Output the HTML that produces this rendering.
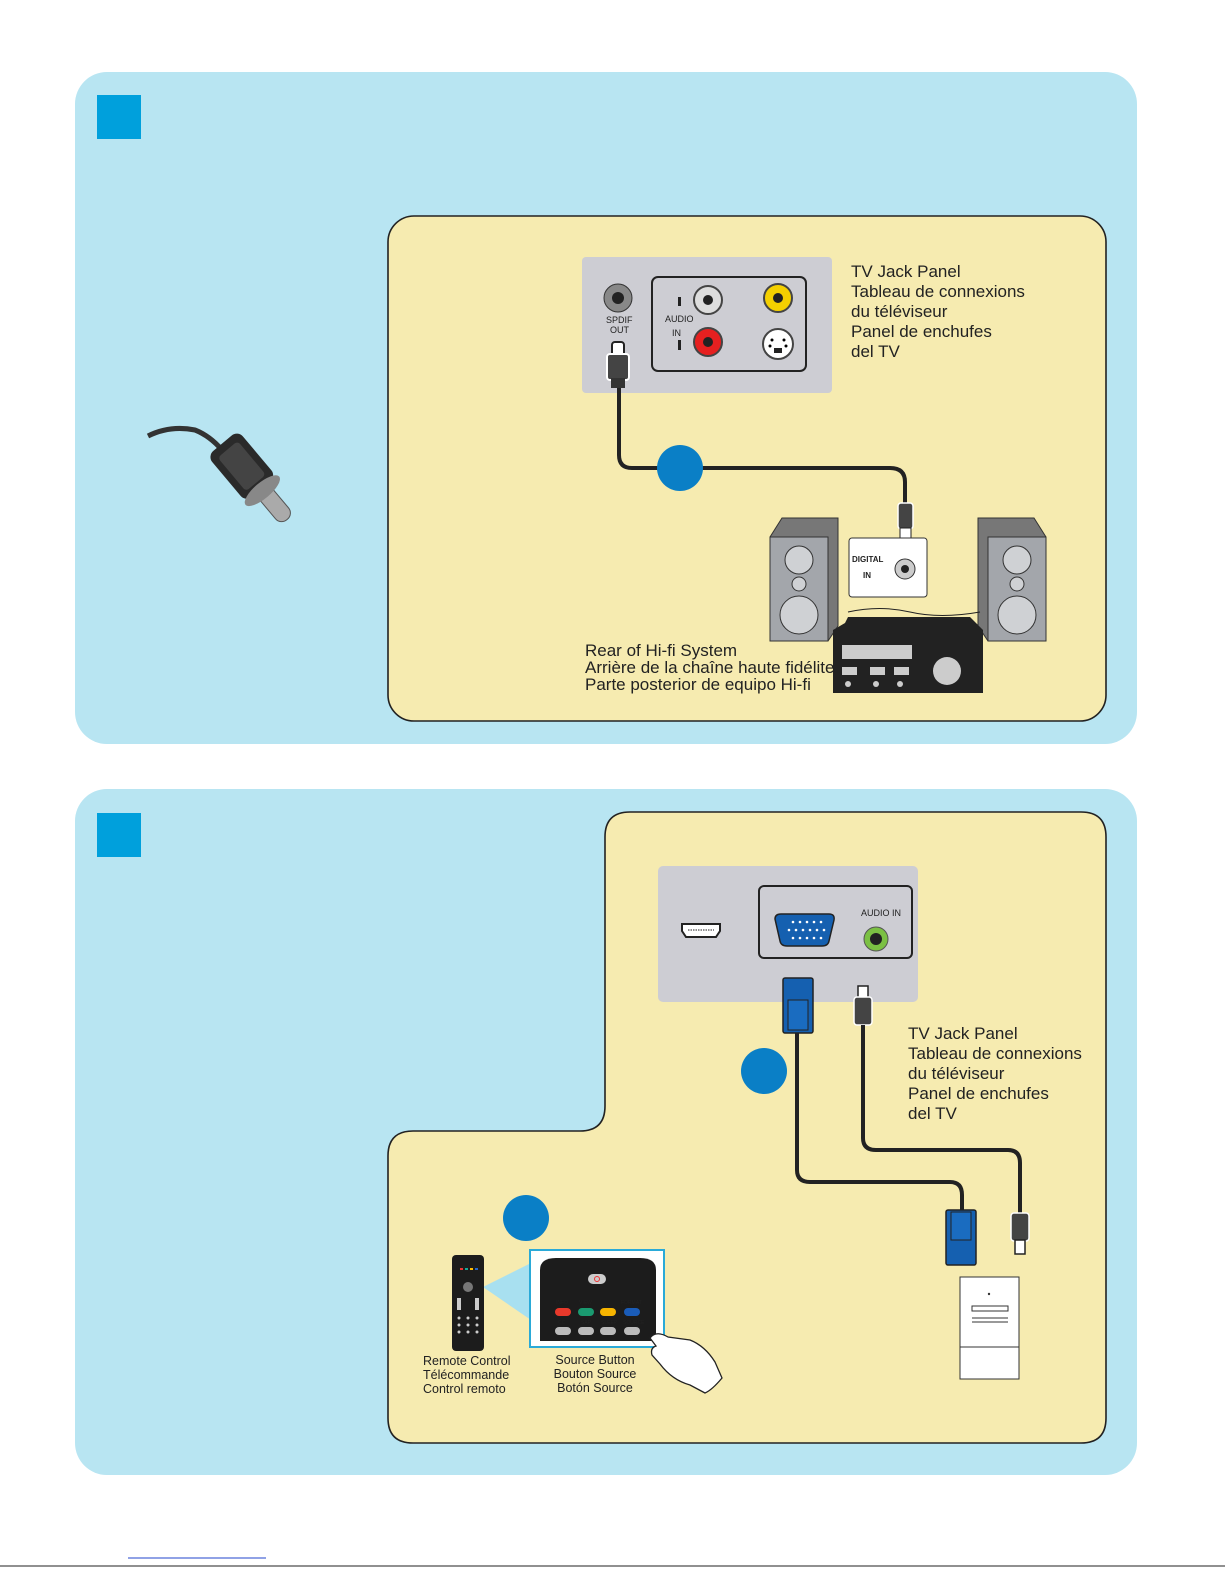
<!DOCTYPE html>
<html><head><meta charset="utf-8"><style>
html,body{margin:0;padding:0;background:#fff}
svg{display:block}
text{font-family:"Liberation Sans",sans-serif;fill:#222}
.lb{font-size:17px}
.sm{font-size:12.5px}
.tiny{font-size:8px;font-weight:bold}
</style></head><body>
<svg width="1225" height="1585" viewBox="0 0 1225 1585" xmlns="http://www.w3.org/2000/svg">
<rect x="75" y="72" width="1062" height="672" rx="32" fill="#b8e5f2"/>
<rect x="97" y="95" width="44" height="44" fill="#00a0dc"/>
<rect x="388" y="216" width="718" height="505" rx="26" fill="#f6ebb0" stroke="#222" stroke-width="1.6"/>
<path d="M148 436 Q170 425 195 430 Q210 436 222 450" fill="none" stroke="#333" stroke-width="5"/>
<g transform="rotate(-40 245 470)">
<rect x="225" y="435" width="40" height="60" rx="8" fill="#2a2a2a"/>
<rect x="232" y="443" width="26" height="44" rx="4" fill="#444"/>
<rect x="237" y="490" width="17" height="45" rx="8" fill="#aaa" stroke="#555"/>
<ellipse cx="245" cy="497" rx="22" ry="8" fill="#888"/>
</g>
<rect x="582" y="257" width="250" height="136" rx="4" fill="#cdcdd3"/>
<rect x="652" y="277" width="154" height="94" rx="6" fill="none" stroke="#222" stroke-width="2"/>
<circle cx="618" cy="298" r="14" fill="#888" stroke="#333"/><circle cx="618" cy="298" r="6" fill="#222"/>
<text x="606" y="323" style="font-size:9px">SPDIF</text>
<text x="610" y="333" style="font-size:9px">OUT</text>
<circle cx="708" cy="300" r="14" fill="#ddd" stroke="#444" stroke-width="2"/><circle cx="708" cy="300" r="5" fill="#222"/>
<circle cx="708" cy="342" r="14" fill="#e62020" stroke="#444" stroke-width="2"/><circle cx="708" cy="342" r="5" fill="#222"/>
<circle cx="778" cy="298" r="14" fill="#f4d000" stroke="#444" stroke-width="2"/><circle cx="778" cy="298" r="5" fill="#222"/>
<circle cx="778" cy="344" r="15" fill="#fff" stroke="#444" stroke-width="2"/><rect x="774" y="348" width="8" height="5" fill="#222"/>
<circle cx="772" cy="340" r="1.5"/><circle cx="784" cy="340" r="1.5"/><circle cx="770" cy="346" r="1.5"/><circle cx="786" cy="346" r="1.5"/>
<rect x="678" y="297" width="3" height="9" fill="#222"/><rect x="678" y="340" width="3" height="10" fill="#222"/>
<text x="665" y="322" style="font-size:9px">AUDIO</text>
<text x="672" y="336" style="font-size:9px">IN</text>
<rect x="612" y="342" width="12" height="14" rx="3" fill="#fff" stroke="#222" stroke-width="2"/>
<rect x="607" y="354" width="22" height="26" rx="3" fill="#444" stroke="#fff" stroke-width="2"/>
<rect x="611" y="378" width="14" height="10" fill="#333"/>
<path d="M619 388 V455 Q619 468 632 468 H890 Q905 468 905 482 V505" fill="none" stroke="#222" stroke-width="4"/>
<circle cx="680" cy="468" r="23" fill="#0a7fc6"/>
<rect x="898" y="503" width="15" height="26" rx="3" fill="#444" stroke="#fff" stroke-width="1.5"/>
<rect x="900" y="528" width="11" height="12" fill="#fff" stroke="#222"/>
<text class="lb"><tspan x="851" y="277">TV Jack Panel</tspan><tspan x="851" y="297">Tableau de connexions</tspan><tspan x="851" y="317">du téléviseur</tspan><tspan x="851" y="337">Panel de enchufes</tspan><tspan x="851" y="357">del TV</tspan></text>
<polygon points="770,537 782,518 838,518 838,626 828,641 770,641" fill="#777" stroke="#333"/>
<rect x="770" y="537" width="58" height="104" fill="#a3a6ab" stroke="#333"/>
<circle cx="799" cy="560" r="14" fill="#cfd1d4" stroke="#333"/><circle cx="799" cy="584" r="7" fill="#cfd1d4" stroke="#333"/><circle cx="799" cy="615" r="19" fill="#cfd1d4" stroke="#333"/>
<polygon points="978,518 1034,518 1046,537 1046,641 988,641 978,626" fill="#777" stroke="#333"/>
<rect x="988" y="537" width="58" height="104" fill="#a3a6ab" stroke="#333"/>
<circle cx="1017" cy="560" r="14" fill="#cfd1d4" stroke="#333"/><circle cx="1017" cy="584" r="7" fill="#cfd1d4" stroke="#333"/><circle cx="1017" cy="615" r="19" fill="#cfd1d4" stroke="#333"/>
<rect x="849" y="538" width="78" height="59" rx="3" fill="#fff" stroke="#333"/>
<text x="852" y="562" class="tiny">DIGITAL</text><text x="863" y="578" class="tiny">IN</text>
<circle cx="905" cy="569" r="10" fill="#ccc" stroke="#333"/><circle cx="905" cy="569" r="4" fill="#222"/>
<path d="M848 612 Q880 605 910 612 T980 612" fill="none" stroke="#222"/>
<polygon points="845,623 848,617 970,617 983,630 983,693 833,693 833,630" fill="#222"/>
<rect x="842" y="645" width="70" height="14" fill="#ccc"/>
<rect x="842" y="667" width="15" height="8" fill="#ccc"/><rect x="870" y="667" width="15" height="8" fill="#ccc"/><rect x="894" y="667" width="15" height="8" fill="#ccc"/>
<circle cx="848" cy="684" r="3" fill="#ccc"/><circle cx="876" cy="684" r="3" fill="#ccc"/><circle cx="900" cy="684" r="3" fill="#ccc"/>
<circle cx="947" cy="671" r="14" fill="#ccc"/>
<text class="lb"><tspan x="585" y="656">Rear of Hi-fi System</tspan><tspan x="585" y="673">Arrière de la chaîne haute fidélite</tspan><tspan x="585" y="690">Parte posterior de equipo Hi-fi</tspan></text>

<rect x="75" y="789" width="1062" height="686" rx="32" fill="#b8e5f2"/>
<rect x="97" y="813" width="44" height="44" fill="#00a0dc"/>
<path d="M630 812 H1081 Q1106 812 1106 837 V1418 Q1106 1443 1081 1443 H413 Q388 1443 388 1418 V1156 Q388 1131 413 1131 H580 Q605 1131 605 1106 V837 Q605 812 630 812 Z" fill="#f6ebb0" stroke="#222" stroke-width="1.6"/>
<rect x="658" y="866" width="260" height="136" rx="5" fill="#cdcdd3"/>
<rect x="759" y="886" width="153" height="72" rx="5" fill="none" stroke="#222" stroke-width="2"/>
<path d="M682 931 V924 H720 V931 L716 937 H686 Z" fill="#fff" stroke="#222" stroke-width="2"/>
<line x1="688" y1="930" x2="714" y2="930" stroke="#222" stroke-dasharray="1.5 1"/>
<path d="M775 919 Q775 914 781 914 H829 Q835 914 834 920 L829 941 Q828 946 822 946 H787 Q781 946 780 941 Z" fill="#1560b0" stroke="#222" stroke-width="1.5"/>
<g fill="#fff"><circle cx="793" cy="922" r="1.3"/><circle cx="800" cy="922" r="1.3"/><circle cx="807" cy="922" r="1.3"/><circle cx="814" cy="922" r="1.3"/><circle cx="821" cy="922" r="1.3"/>
<circle cx="796" cy="930" r="1.3"/><circle cx="803" cy="930" r="1.3"/><circle cx="810" cy="930" r="1.3"/><circle cx="817" cy="930" r="1.3"/><circle cx="824" cy="930" r="1.3"/><circle cx="789" cy="930" r="1.3"/>
<circle cx="793" cy="938" r="1.3"/><circle cx="800" cy="938" r="1.3"/><circle cx="807" cy="938" r="1.3"/><circle cx="814" cy="938" r="1.3"/><circle cx="821" cy="938" r="1.3"/></g>
<circle cx="876" cy="939" r="12" fill="#7bc043" stroke="#555"/><circle cx="876" cy="939" r="6" fill="#222"/>
<text x="861" y="916" style="font-size:9px">AUDIO IN</text>
<rect x="783" y="978" width="30" height="55" rx="2" fill="#1560b0" stroke="#222" stroke-width="1.5"/>
<rect x="788" y="1000" width="20" height="30" fill="#1a6cc0" stroke="#222"/>
<rect x="858" y="986" width="10" height="12" fill="#fff" stroke="#222" stroke-width="1.5"/>
<rect x="854" y="997" width="18" height="28" rx="3" fill="#444" stroke="#fff" stroke-width="1.5"/>
<path d="M797 1033 V1170 Q797 1182 810 1182 H950 Q962 1182 962 1195 V1212" fill="none" stroke="#222" stroke-width="4"/>
<path d="M863 1025 V1138 Q863 1150 876 1150 H1008 Q1020 1150 1020 1163 V1215" fill="none" stroke="#222" stroke-width="4"/>
<rect x="946" y="1210" width="30" height="55" rx="2" fill="#1560b0" stroke="#222" stroke-width="1.5"/>
<rect x="951" y="1212" width="20" height="28" fill="#1a6cc0" stroke="#222"/>
<rect x="1011" y="1213" width="18" height="28" rx="3" fill="#444" stroke="#fff" stroke-width="1.5"/>
<rect x="1015" y="1240" width="10" height="14" fill="#fff" stroke="#222" stroke-width="1.5"/>
<circle cx="764" cy="1071" r="23" fill="#0a7fc6"/>
<circle cx="526" cy="1218" r="23" fill="#0a7fc6"/>
<text class="lb"><tspan x="908" y="1039">TV Jack Panel</tspan><tspan x="908" y="1059">Tableau de connexions</tspan><tspan x="908" y="1079">du téléviseur</tspan><tspan x="908" y="1099">Panel de enchufes</tspan><tspan x="908" y="1119">del TV</tspan></text>
<rect x="960" y="1277" width="59" height="102" fill="#fff" stroke="#333"/>
<line x1="960" y1="1347" x2="1019" y2="1347" stroke="#333"/>
<rect x="972" y="1306" width="36" height="5" fill="#fff" stroke="#333"/>
<line x1="972" y1="1318" x2="1008" y2="1318" stroke="#333"/><line x1="972" y1="1322" x2="1008" y2="1322" stroke="#333"/>
<circle cx="989" cy="1294" r="1.2" fill="#333"/>
<polygon points="483,1287 531,1263 531,1320" fill="#a8e0f0"/>
<rect x="452" y="1255" width="32" height="96" rx="4" fill="#1c1c1c"/>
<g fill="#ccc"><circle cx="468" cy="1287" r="5" fill="#777"/><rect x="457" y="1298" width="4" height="12"/><rect x="475" y="1298" width="4" height="12"/>
<circle cx="459" cy="1318" r="1.5"/><circle cx="468" cy="1318" r="1.5"/><circle cx="477" cy="1318" r="1.5"/><circle cx="459" cy="1325" r="1.5"/><circle cx="468" cy="1325" r="1.5"/><circle cx="477" cy="1325" r="1.5"/><circle cx="459" cy="1332" r="1.5"/><circle cx="468" cy="1332" r="1.5"/><circle cx="477" cy="1332" r="1.5"/></g>
<rect x="460" y="1268" width="3" height="2" fill="#e33"/><rect x="465" y="1268" width="3" height="2" fill="#1a9"/><rect x="470" y="1268" width="3" height="2" fill="#fb0"/><rect x="475" y="1268" width="3" height="2" fill="#26c"/>
<rect x="530" y="1250" width="134" height="97" fill="#fff" stroke="#2aaad8" stroke-width="2"/>
<path d="M540 1341 V1270 Q540 1258 556 1258 H640 Q656 1258 656 1270 V1341 Z" fill="#1c1c1c"/>
<rect x="588" y="1274" width="18" height="10" rx="5" fill="#ccc"/><circle cx="597" cy="1279" r="2.5" fill="none" stroke="#e33"/>
<g style="font-size:5px"><text x="556" y="1304" fill="#fff">INFO</text><text x="579" y="1304" fill="#fff">VIEW</text><text x="621" y="1304" fill="#fff">FORMAT</text><text x="558" y="1324" fill="#fff">CC</text><text x="581" y="1324" fill="#fff">SAP</text><text x="601" y="1324" fill="#fff">SLEEP</text><text x="623" y="1324" fill="#fff">SOURCE</text></g>
<rect x="555" y="1308" width="16" height="8" rx="4" fill="#e8392b"/><rect x="578" y="1308" width="16" height="8" rx="4" fill="#1a9a70"/><rect x="600" y="1308" width="16" height="8" rx="4" fill="#f6b400"/><rect x="624" y="1308" width="16" height="8" rx="4" fill="#1a5cb8"/>
<rect x="555" y="1327" width="16" height="8" rx="4" fill="#bbb"/><rect x="578" y="1327" width="16" height="8" rx="4" fill="#bbb"/><rect x="600" y="1327" width="16" height="8" rx="4" fill="#bbb"/><rect x="624" y="1327" width="16" height="8" rx="4" fill="#bbb"/>
<path d="M650 1338 Q656 1330 668 1337 L690 1340 Q705 1346 715 1362 L722 1378 Q712 1390 705 1393 L690 1385 Q672 1380 660 1364 L652 1355 Q650 1348 656 1346 Z" fill="#fff" stroke="#222" stroke-width="1.3"/>
<text class="sm"><tspan x="423" y="1365">Remote Control</tspan><tspan x="423" y="1379">Télécommande</tspan><tspan x="423" y="1393">Control remoto</tspan></text>
<text class="sm" text-anchor="middle"><tspan x="595" y="1364">Source Button</tspan><tspan x="595" y="1378">Bouton Source</tspan><tspan x="595" y="1392">Botón Source</tspan></text>
<line x1="0" y1="1566" x2="1225" y2="1566" stroke="#222" stroke-width="1"/>
<line x1="128" y1="1558" x2="266" y2="1558" stroke="#2244cc" stroke-width="1"/>
</svg>
</body></html>
